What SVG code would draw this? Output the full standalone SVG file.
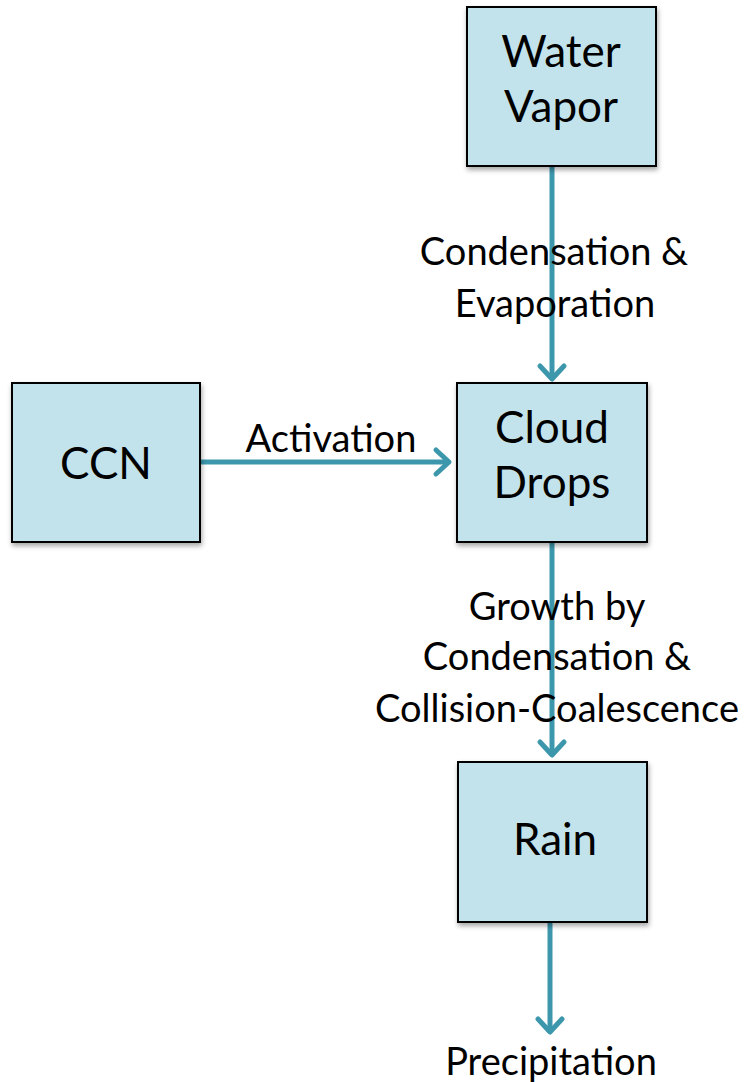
<svg xmlns="http://www.w3.org/2000/svg" width="748" height="1082" viewBox="0 0 748 1082">
<defs>
<style>
.box{fill:#c3e3ec;stroke:#000;stroke-width:2;filter:url(#sh)}
.nt{font-family:Lato,"Open Sans",sans-serif;font-size:44px;fill:#000;text-anchor:middle}
.lt{font-family:Lato,"Open Sans",sans-serif;font-size:38px;fill:#000;text-anchor:middle}
.ed{stroke:#3d97ac;stroke-width:5;fill:none;marker-end:url(#ah)}
</style>
<filter id="sh" x="-10%" y="-10%" width="125%" height="125%">
<feDropShadow dx="1" dy="3" stdDeviation="2.5" flood-color="#000" flood-opacity="0.35"/>
</filter>
<marker id="ah" markerUnits="userSpaceOnUse" viewBox="-20 -16 26 32" refX="0" refY="0" markerWidth="26" markerHeight="32" orient="auto">
<path d="M-13,-12 L0,0 L-13,12" fill="none" stroke="#3d97ac" stroke-width="5" stroke-linecap="round" stroke-linejoin="round"/>
</marker>
</defs>
<rect width="748" height="1082" fill="#fff"/>
<g id="connectors">
<path class="ed" d="M552,166 L552,379"/>
<path class="ed" d="M200,462 L449,462"/>
<path class="ed" d="M552,542 L552,755"/>
<path class="ed" d="M550,922 L550,1032"/>
<text class="lt" x="554" y="265">Condensation &amp;</text>
<text class="lt" x="555" y="317">Evaporation</text>
<text class="lt" x="331" y="452">Activation</text>
<text class="lt" x="557" y="620">Growth by</text>
<text class="lt" x="557" y="670">Condensation &amp;</text>
<text class="lt" x="557" y="722">Collision-Coalescence</text>
<text class="lt" x="551" y="1075">Precipitation</text>
</g>
<g id="water-vapor">
<rect class="box" x="467" y="7" width="189" height="159"/>
<text class="nt" x="561" y="67">Water</text>
<text class="nt" x="561" y="122">Vapor</text>
</g>
<g id="ccn">
<rect class="box" x="12" y="383" width="188" height="159"/>
<text class="nt" x="106" y="479">CCN</text>
</g>
<g id="cloud-drops">
<rect class="box" x="457" y="383" width="190" height="159"/>
<text class="nt" x="552" y="443">Cloud</text>
<text class="nt" x="552" y="498">Drops</text>
</g>
<g id="rain">
<rect class="box" x="458" y="762" width="189" height="160"/>
<text class="nt" x="555" y="855">Rain</text>
</g>
</svg>
